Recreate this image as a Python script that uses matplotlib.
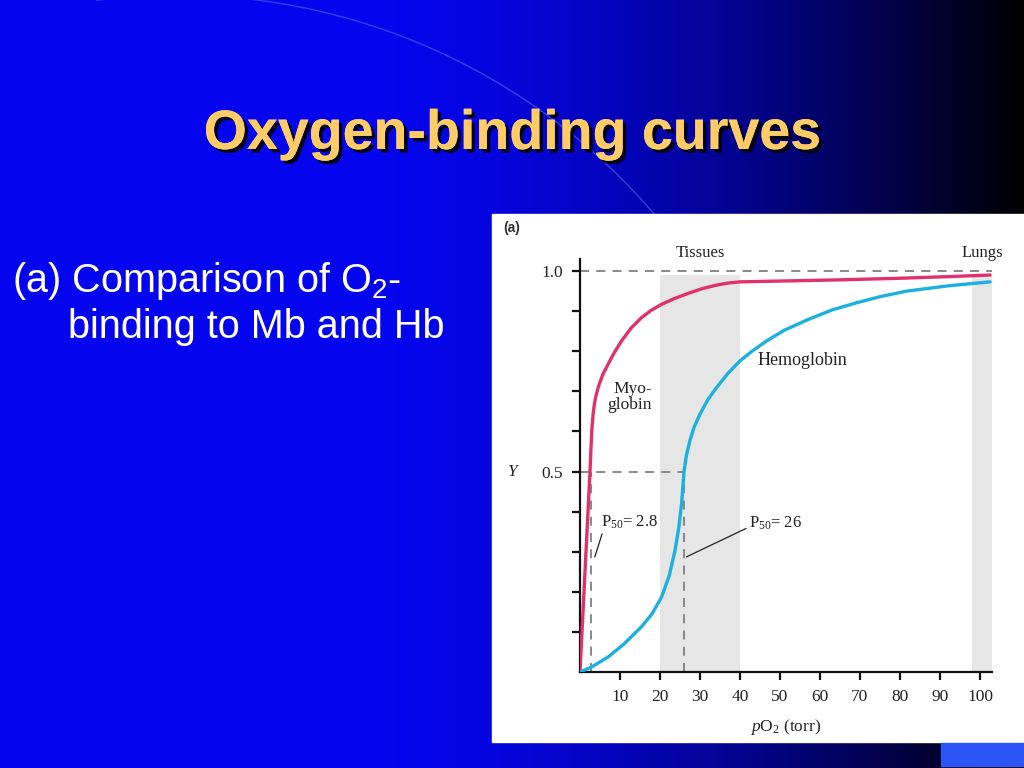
"""Slide: oxygen-binding curves of myoglobin and hemoglobin."""
import matplotlib
matplotlib.use("Agg")
import matplotlib.pyplot as plt
import matplotlib.patches as mpatches
import matplotlib.patheffects as pe
import numpy as np

plt.rcParams["mathtext.fontset"] = "custom"
plt.rcParams["mathtext.rm"] = "Liberation Serif"
plt.rcParams["mathtext.it"] = "Liberation Serif:italic"

# ----- data -----
MB_PO2 = [0, 0.8, 1.6, 2.5, 2.75, 3.0, 3.3, 3.6, 3.9, 4.6, 5.7, 7.1, 8.6, 10.4,
          12.8, 15.4, 17.8, 20.4, 23.5, 27, 30.5, 34.2, 37, 40, 50, 65, 80, 92,
          102.5]
MB_Y = [0, 0.16, 0.32, 0.50, 0.56, 0.61, 0.645, 0.668, 0.685, 0.712, 0.742, 0.769,
        0.797, 0.826, 0.858, 0.884, 0.902, 0.917, 0.931, 0.944, 0.956, 0.965,
        0.970, 0.973, 0.975, 0.978, 0.982, 0.986, 0.99]

HB_PO2 = [0, 3, 7.1, 11, 15.4, 18, 20.4, 22.3, 23.75, 24.7, 25.4, 26, 26.6, 27.5,
          28.5, 30, 32, 34.2, 37, 40, 43, 46.7, 51, 57, 63, 69.2, 75, 81.7, 92,
          102.5]
HB_Y = [0, 0.013, 0.038, 0.07, 0.113, 0.145, 0.187, 0.24, 0.303, 0.36, 0.42, 0.50,
        0.54, 0.578, 0.61, 0.643, 0.68, 0.71, 0.745, 0.776, 0.80, 0.826, 0.852,
        0.879, 0.903, 0.921, 0.936, 0.95, 0.963, 0.973]

P50_MB = 2.8
P50_HB = 26
TISSUES = (20, 40)
LUNGS = (98, 103)

X_TICKS = [10, 20, 30, 40, 50, 60, 70, 80, 90, 100]
Y_TICKS = [0.1, 0.2, 0.3, 0.4, 0.5, 0.6, 0.7, 0.8, 0.9, 1.0]
Y_TICK_LABELS = ["", "", "", "", "0.5", "", "", "", "", "1.0"]

PINK = "#e0306e"
CYAN = "#1cb0e2"
SHADE = "#e6e6e6"
DASH = "#808080"
SERIF = "Liberation Serif"


def main() -> None:
    fig = plt.figure(figsize=(10.24, 7.68), dpi=100)

    # ── slide background (pixel coordinates) ─────────────────────────
    bg = fig.add_axes([0, 0, 1, 1], zorder=0)
    t = np.linspace(0, 1, 512)
    blue = np.where(t < 0.35, 0.94,
                    0.94 * (1 - np.clip((t - 0.35) / 0.65, 0, 1) ** 1.6))
    grad = np.zeros((1, t.size, 3))
    grad[0, :, 0] = blue * 0.02
    grad[0, :, 1] = blue * 0.02
    grad[0, :, 2] = blue
    bg.imshow(grad, extent=[0, 1024, 768, 0], aspect="auto")
    bg.add_patch(mpatches.Arc((178, 622), 1254, 1254, theta1=262.5, theta2=322,
                              color="#6f8cff", lw=1.0, alpha=0.45))
    bg.add_patch(mpatches.Rectangle((492, 214), 532, 528, color="white", zorder=3))
    bg.add_patch(mpatches.Rectangle((941, 743), 82, 23, color="#2b55f5", zorder=3))
    bg.set_xlim(0, 1024)
    bg.set_ylim(768, 0)
    bg.axis("off")

    title = bg.text(512, 135, "Oxygen-binding curves", ha="center", va="center",
                    fontsize=40, fontweight="bold", family="Liberation Sans",
                    color="#ffcc66", zorder=4)
    title.set_path_effects([pe.withSimplePatchShadow(offset=(2.5, -2.5),
                                                     shadow_rgbFace="black", alpha=0.9),
                            pe.Normal()])
    bg.text(12, 292, r"(a) Comparison of O$\mathregular{_2}$-", ha="left",
            va="baseline", fontsize=28.5, family="Liberation Sans", color="white",
            zorder=4)
    bg.text(68, 338, "binding to Mb and Hb", ha="left", va="baseline",
            fontsize=28.5, family="Liberation Sans", color="white", zorder=4)
    bg.text(503, 228, "(a)", ha="left", va="center", fontsize=10,
            fontweight="bold", family="Liberation Sans", color="#333333", zorder=4)

    # ── chart ────────────────────────────────────────────────────────
    ax = fig.add_axes([580 / 1024, 96 / 768, 412 / 1024, 413 / 768], zorder=5)
    ax.patch.set_alpha(0)
    ax.set_xlim(0, 103)
    ax.set_ylim(0, 1.03)

    top = 0.99 / 1.03
    ax.axvspan(*TISSUES, ymax=top, color=SHADE, lw=0, zorder=0)
    ax.axvspan(*LUNGS, ymax=top, color=SHADE, lw=0, zorder=0)

    dash = dict(color=DASH, lw=1.3, dashes=(5, 4), zorder=1)
    ax.plot([0, 103], [1.0, 1.0], **dash)
    ax.plot([0, P50_HB], [0.5, 0.5], **dash)
    ax.plot([P50_MB, P50_MB], [0, 0.5], **dash)
    ax.plot([P50_HB, P50_HB], [0, 0.5], **dash)

    ax.plot(MB_PO2, MB_Y, color=PINK, lw=2.4, solid_capstyle="round",
            solid_joinstyle="round", zorder=3)
    ax.plot(HB_PO2, HB_Y, color=CYAN, lw=2.4, solid_capstyle="round",
            solid_joinstyle="round", zorder=3)

    txt = dict(family=SERIF, fontsize=12, color="#222222")
    ax.text(18, 0.687, "Myo-\nglobin", ha="right", va="center", multialignment="right",
            linespacing=1.0, family=SERIF, fontsize=12.5, color="#222222")
    ax.text(44.3, 0.776, "Hemoglobin", ha="left", va="center", family=SERIF,
            fontsize=13, color="#222222")
    ax.text(30, 1.045, "Tissues", ha="center", va="center", clip_on=False, **txt)
    ax.text(100.5, 1.045, "Lungs", ha="center", va="center", clip_on=False, **txt)

    ax.annotate(r"P$\mathregular{_{50}}$= 2.8", xy=(3.7, 0.287), xytext=(5.3, 0.373),
                ha="left", va="center",
                arrowprops=dict(arrowstyle="-", color="#222222", lw=0.9,
                                shrinkA=0, shrinkB=0, relpos=(0.05, 0.2)), **txt)
    ax.annotate(r"P$\mathregular{_{50}}$= 26", xy=(26.6, 0.287), xytext=(42.2, 0.37),
                ha="left", va="center",
                arrowprops=dict(arrowstyle="-", color="#222222", lw=0.9,
                                shrinkA=0, shrinkB=0, relpos=(0.0, 0.3)), **txt)

    ax.text(-16.8, 0.5, "Y", ha="center", va="center", family=SERIF,
            style="italic", fontsize=12.5, color="#222222")

    for side in ("top", "right"):
        ax.spines[side].set_visible(False)
    for side in ("left", "bottom"):
        ax.spines[side].set_linewidth(1.6)
        ax.spines[side].set_color("#111111")

    ax.set_xticks(X_TICKS)
    ax.set_yticks(Y_TICKS)
    ax.set_yticklabels(Y_TICK_LABELS)
    ax.tick_params(direction="out", length=6, width=1.6, color="#111111",
                   labelsize=12.5, labelcolor="#222222", pad=6)
    for lab in ax.get_xticklabels() + ax.get_yticklabels():
        lab.set_family(SERIF)
    ax.set_xlabel(r"$\mathit{p}$O$_2$ (torr)", fontsize=12.5, color="#222222",
                  family=SERIF, labelpad=9)

    fig.savefig("out.png", dpi=100)


if __name__ == "__main__":
    main()
